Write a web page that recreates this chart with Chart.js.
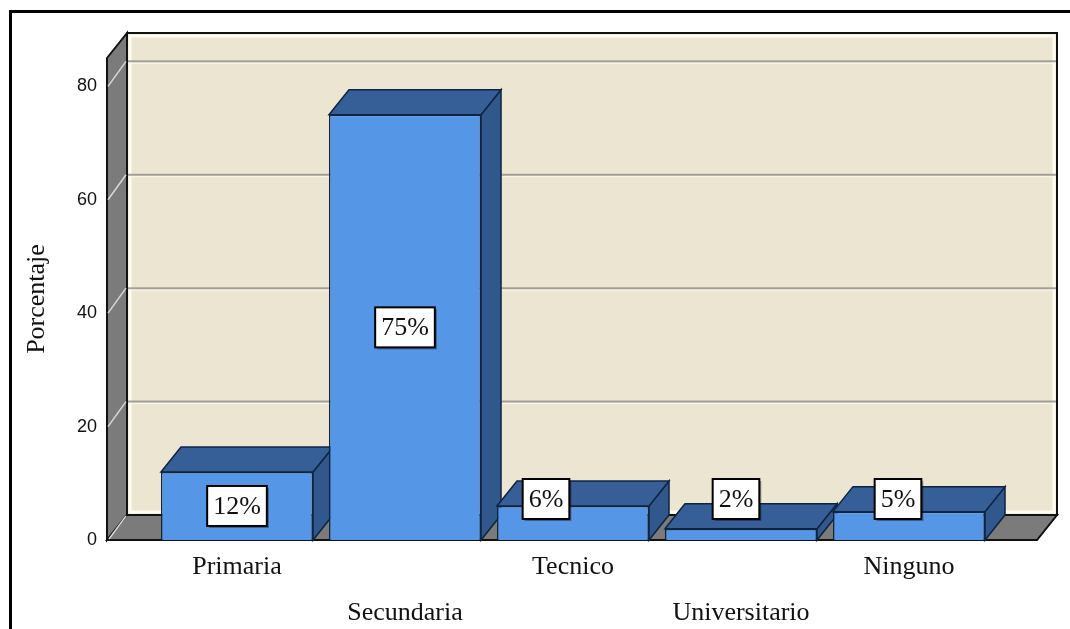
<!DOCTYPE html>
<html>
<head>
<meta charset="utf-8">
<title>Porcentaje por nivel de estudios</title>
<script src="https://cdn.jsdelivr.net/npm/chart.js@4.4.1/dist/chart.umd.min.js"></script>
<style>
  html, body { margin: 0; padding: 0; background: #fff; overflow: hidden; }
  #frame { position: absolute; left: 9px; top: 10px; width: 1100px; height: 700px; border: 3px solid #000; }
  #wrap { position: absolute; left: 0; top: 0; width: 1070px; height: 629px; }
</style>
</head>
<body>
<div id="frame"></div>
<div id="wrap"><canvas id="chart"></canvas></div>
<script>
// data
const categories = ['Primaria', 'Secundaria', 'Tecnico', 'Universitario', 'Ninguno'];
const percentages = [12, 75, 6, 2, 5];
const valueLabels = ['12%', '75%', '6%', '2%', '5%'];
const yTicks = [0, 20, 40, 60, 80];

// 3D look
const depth = { dx: 20, dy: -25 };
const frontBlue = '#5596e6';
const topBlue = '#355f96';
const sideBlue = '#30588c';
const edge = '#0f2443';

function poly(ctx, pts, fill, stroke, lw) {
    ctx.beginPath();
    ctx.moveTo(pts[0][0], pts[0][1]);
    for (let i = 1; i < pts.length; i++) ctx.lineTo(pts[i][0], pts[i][1]);
    ctx.closePath();
    if (fill) { ctx.fillStyle = fill; ctx.fill(); }
    if (stroke) { ctx.strokeStyle = stroke; ctx.lineWidth = lw || 1; ctx.stroke(); }
}

const box3d = {
    id: 'box3d',
    beforeDraw(chart, args, opts) {
        const ctx = chart.ctx;
        const y = chart.scales.y;
        const a = chart.chartArea;
        const L = a.left - opts.padLeft, R = a.right + opts.padRight;
        const T = a.top, B = a.bottom;
        const dx = depth.dx, dy = depth.dy;
        ctx.save();
        // back wall
        poly(ctx, [[L + dx, T + dy], [R + dx, T + dy], [R + dx, B + dy], [L + dx, B + dy]], '#ebe5d2');
        ctx.strokeStyle = '#fffdf2';
        ctx.lineWidth = 3;
        ctx.strokeRect(L + dx + 3, T + dy + 3, R - L - 6, B - T - 6);
        // gridlines on back wall + side wall
        yTicks.forEach(v => {
            if (v === 0) return;
            const py = y.getPixelForValue(v);
            ctx.strokeStyle = '#a3a099';
            ctx.lineWidth = 2;
            ctx.beginPath();
            ctx.moveTo(L + dx, py + dy); ctx.lineTo(R + dx, py + dy);
            ctx.stroke();
            ctx.strokeStyle = '#fbf8ec';
            ctx.lineWidth = 1;
            ctx.beginPath();
            ctx.moveTo(L + dx, py + dy + 2); ctx.lineTo(R + dx, py + dy + 2);
            ctx.stroke();
        });
        poly(ctx, [[L + dx, T + dy], [R + dx, T + dy], [R + dx, B + dy], [L + dx, B + dy]], null, '#111', 2);
        // side wall
        poly(ctx, [[L, T], [L + dx, T + dy], [L + dx, B + dy], [L, B]], '#7b7b7b', '#111', 2);
        yTicks.forEach(v => {
            if (v === 0) return;
            const py = y.getPixelForValue(v);
            ctx.strokeStyle = '#d8d8d8';
            ctx.lineWidth = 1.5;
            ctx.beginPath();
            ctx.moveTo(L + 1, py); ctx.lineTo(L + dx - 1, py + dy);
            ctx.stroke();
        });
        // floor
        poly(ctx, [[L, B], [L + dx, B + dy], [R + dx, B + dy], [R, B]], '#7b7b7b', '#111', 2);
        ctx.strokeStyle = '#d8d8d8';
        ctx.lineWidth = 1.5;
        ctx.beginPath();
        ctx.moveTo(L + 2, B - 1); ctx.lineTo(L + dx - 1, B + dy + 1);
        ctx.stroke();
        ctx.restore();
    },
    beforeDatasetsDraw(chart) {
        const ctx = chart.ctx;
        const dx = depth.dx, dy = depth.dy;
        ctx.save();
        chart.getDatasetMeta(0).data.forEach(bar => {
            const l = bar.x - bar.width / 2, r = bar.x + bar.width / 2;
            const t = bar.y, b = bar.base;
            // right side face
            poly(ctx, [[r, t], [r + dx, t + dy], [r + dx, b + dy], [r, b]], sideBlue, edge, 1.5);
            // top face
            poly(ctx, [[l, t], [l + dx, t + dy], [r + dx, t + dy], [r, t]], topBlue, edge, 1.5);
        });
        ctx.restore();
    },
    afterDatasetsDraw(chart, args, opts) {
        const ctx = chart.ctx;
        ctx.save();
        ctx.font = '26px "Liberation Serif", "Times New Roman", serif';
        ctx.textAlign = 'center';
        ctx.textBaseline = 'middle';
        chart.getDatasetMeta(0).data.forEach((bar, i) => {
            const faceH = bar.base - bar.y;
            let cy = faceH >= 50 ? (bar.y + bar.base) / 2 : opts.smallLabelY;
            const cx = bar.x + (faceH >= 50 ? 0 : opts.labelShift[i]);
            const txt = valueLabels[i];
            const w = ctx.measureText(txt).width + 12, h = 40;
            ctx.fillStyle = 'rgba(0,0,0,0.35)';
            ctx.fillRect(cx - w / 2 + 2, cy - h / 2 + 2, w, h);
            ctx.fillStyle = '#fff';
            ctx.fillRect(cx - w / 2, cy - h / 2, w, h);
            ctx.strokeStyle = '#000';
            ctx.lineWidth = 2;
            ctx.strokeRect(cx - w / 2, cy - h / 2, w, h);
            ctx.fillStyle = '#111';
            ctx.fillText(txt, cx, cy + 1);
        });
        ctx.restore();
    }
};

new Chart(document.getElementById('chart'), {
    type: 'bar',
    data: {
        labels: categories,
        datasets: [{
            label: 'Porcentaje',
            data: percentages,
            backgroundColor: frontBlue,
            borderColor: edge,
            borderWidth: 1.5,
            categoryPercentage: 0.905,
            barPercentage: 1
        }]
    },
    options: {
        responsive: true,
        maintainAspectRatio: false,
        animation: false,
        layout: { padding: { left: 0, right: 77, top: 58, bottom: 0 } },
        plugins: {
            legend: { display: false },
            tooltip: { enabled: false },
            box3d: { padLeft: 46, padRight: 44, smallLabelY: 499, labelShift: [0, 0, -27, -5, -11] }
        },
        scales: {
            x: {
                grid: { display: false, drawTicks: false },
                border: { display: false },
                afterFit: s => { s.height = 89; },
                ticks: {
                    padding: 4,
                    maxRotation: 0,
                    autoSkip: false,
                    color: '#111',
                    font: { family: '"Liberation Serif", "Times New Roman", serif', size: 26, lineHeight: 1.77 },
                    callback: (v, i) => i % 2 ? ['', categories[i]] : categories[i]
                }
            },
            y: {
                min: 0,
                max: 85,
                grid: { display: false, drawTicks: false },
                border: { display: false },
                afterFit: s => { s.width = 153; s.paddingTop = 10; s.paddingBottom = 10; },
                afterBuildTicks: s => { s.ticks = yTicks.map(v => ({ value: v })); },
                ticks: {
                    padding: 56,
                    color: '#111',
                    font: { family: '"Liberation Sans", Arial, sans-serif', size: 18 }
                },
                title: {
                    display: true,
                    text: 'Porcentaje',
                    color: '#111',
                    padding: { top: 22, bottom: 0 },
                    font: { family: '"Liberation Serif", "Times New Roman", serif', size: 26 }
                }
            }
        }
    },
    plugins: [box3d]
});
</script>
</body>
</html>
